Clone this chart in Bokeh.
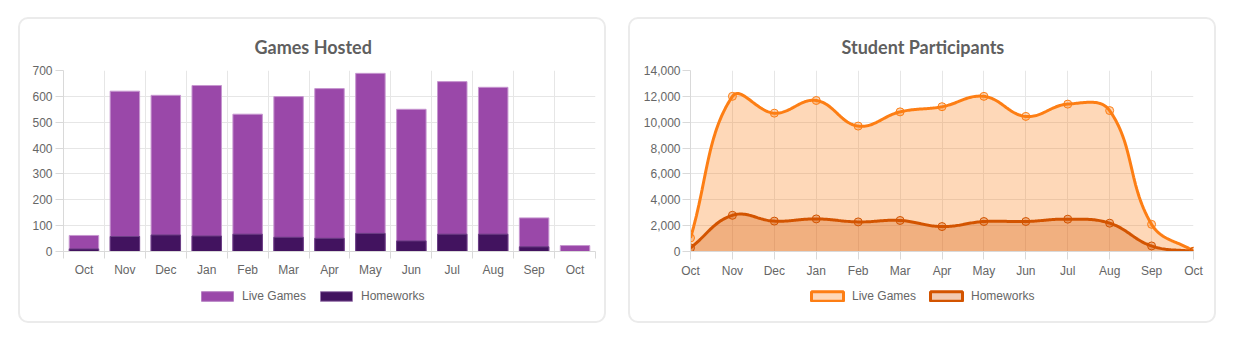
import math
from bokeh.plotting import figure
from bokeh.layouts import row, column
from bokeh.models import (Range1d, FixedTicker, NumeralTickFormatter, Legend,
                          LegendItem)
from bokeh.embed import file_html
from bokeh.resources import INLINE

# ---------------- data ----------------
months = ["Oct", "Nov", "Dec", "Jan", "Feb", "Mar", "Apr", "May", "Jun",
          "Jul", "Aug", "Sep", "Oct"]
games_live = [62, 620, 604, 642, 531, 599, 630, 689, 550, 657, 635, 130, 23]
games_homework = [10, 58, 64, 60, 67, 55, 51, 70, 41, 67, 67, 18, 0]
students_live = [1050, 12000, 10700, 11680, 9700, 10800, 11200, 12000,
                 10450, 11400, 10900, 2100, 30]
students_homework = [280, 2800, 2350, 2520, 2290, 2400, 1930, 2320, 2320,
                     2500, 2190, 430, 0]
games_ticks = [0, 100, 200, 300, 400, 500, 600, 700]
student_ticks = [0, 2000, 4000, 6000, 8000, 10000, 12000, 14000]
series_names = ["Live Games", "Homeworks"]

# ---------------- style ----------------
LABEL_FONT = "Liberation Sans"
TITLE_FONT = "Lato"
TXT = "#666666"
GRID = "#e6e6e6"
AXIS = "#d9d9d9"
PURPLE = "#9a48a9"
DARK_PURPLE = "#42135f"
ORANGE = "#fd7e14"
DARK_ORANGE = "#d35400"
CARD = {"border": "2px solid #ebebeb", "border-radius": "10px",
        "box-sizing": "content-box"}
W = 584          # card inner width
MAIN_H = 262     # chart figure height
LEG_H = 40       # legend strip height

xs = list(range(len(months)))


def style_common(p):
    p.outline_line_color = None
    p.border_fill_color = None
    p.background_fill_color = "white"
    p.title.text_font = TITLE_FONT
    p.title.text_font_size = "18px"
    p.title.text_font_style = "bold"
    p.title.text_color = "#5f5f5f"
    p.title.align = "left"
    p.title.standoff = 26
    for ax in (p.xaxis[0], p.yaxis[0]):
        ax.axis_line_color = AXIS
        ax.major_label_text_font = LABEL_FONT
        ax.major_label_text_font_size = "12px"
        ax.major_label_text_color = TXT
        ax.major_tick_line_color = AXIS
        ax.major_tick_in = 0
        ax.minor_tick_line_color = None
    p.yaxis.major_tick_out = 8
    p.yaxis.major_label_standoff = 3
    p.xgrid.grid_line_color = GRID
    p.ygrid.grid_line_color = GRID


def legend_strip(series, specs, vx):
    """A small figure holding only the legend, placed under the chart."""
    lf = figure(width=W, height=LEG_H, x_range=Range1d(0, 1),
                y_range=Range1d(0, 1), output_backend="svg",
                toolbar_location=None, min_border=0,
                x_axis_type=None, y_axis_type=None)
    lf.outline_line_color = None
    lf.border_fill_color = None
    lf.background_fill_color = None
    lf.xgrid.visible = False
    lf.ygrid.visible = False
    items = []
    for name, vals, kw in zip(series_names, series, specs):
        r = lf.vbar(x=xs, top=vals, width=0.5, **kw)
        r.visible = False
        items.append(LegendItem(label=name, renderers=[r]))
    lg = Legend(items=items, orientation="horizontal", location=(vx, 18),
                glyph_width=40, glyph_height=12, label_standoff=5, spacing=10,
                padding=0, margin=0, border_line_color=None,
                background_fill_alpha=0, inactive_fill_alpha=0,
                label_text_font=LABEL_FONT,
                label_text_font_size="12px", label_text_color=TXT)
    lf.add_layout(lg)
    return lf


# ---------------- left: Games Hosted ----------------
p1 = figure(width=W, height=MAIN_H, x_range=Range1d(-0.5, 12.5),
            y_range=Range1d(0, 700), output_backend="svg",
            toolbar_location=None, title="Games Hosted",
            min_border_left=43, min_border_right=9, min_border_top=51,
            min_border_bottom=30)
style_common(p1)
p1.title.offset = 191
p1.yaxis.ticker = FixedTicker(ticks=games_ticks)
bounds = [i - 0.5 for i in range(len(months) + 1)]
p1.xaxis.ticker = FixedTicker(ticks=xs, minor_ticks=bounds)
p1.xaxis.major_label_overrides = {i: m for i, m in enumerate(months)}
p1.xaxis.major_tick_out = 0
p1.xaxis.major_tick_line_color = None
p1.xaxis.minor_tick_line_color = AXIS
p1.xaxis.minor_tick_out = 7
p1.xaxis.minor_tick_in = 0
p1.xaxis.major_label_standoff = 4
p1.xgrid.ticker = FixedTicker(ticks=bounds)

p1.vbar(x=xs, top=games_live, width=0.72, fill_color=PURPLE,
        line_color="#c797d0", line_width=1)
p1.vbar(x=xs, top=games_homework, width=0.72, fill_color=DARK_PURPLE,
        line_color="#6b3f85", line_width=1)
l1 = legend_strip([games_live, games_homework],
                  [dict(fill_color=PURPLE, line_color="#b57fc2", line_width=1),
                   dict(fill_color=DARK_PURPLE, line_color="#9a78ad",
                        line_width=1)], 134)
card1 = column(p1, l1, spacing=0)
card1.styles = CARD
card1.margin = (17, 0, 0, 18)


# ---------------- right: Student Participants ----------------
def spline(xv, yv, sx, sy, xmax, ymax, t=0.4, n=30):
    """Chart.js-style cardinal spline (tension 0.4) through the data points."""
    P = [(x * sx, y * sy) for x, y in zip(xv, yv)]
    N = len(P)
    cps = []
    for i in range(N):
        prv = P[i - 1] if i > 0 else P[i]
        cur = P[i]
        nxt = P[i + 1] if i < N - 1 else P[i]
        d01 = math.hypot(cur[0] - prv[0], cur[1] - prv[1])
        d12 = math.hypot(nxt[0] - cur[0], nxt[1] - cur[1])
        s = d01 + d12
        s01 = d01 / s if s else 0
        s12 = d12 / s if s else 0
        fa, fb = t * s01, t * s12
        dx, dy = nxt[0] - prv[0], nxt[1] - prv[1]
        cp_prev = (cur[0] - fa * dx, cur[1] - fa * dy)
        cp_next = (cur[0] + fb * dx, cur[1] + fb * dy)
        cap = lambda c: (min(max(c[0], 0), xmax * sx), min(max(c[1], 0), ymax * sy))
        cps.append((cap(cp_prev), cap(cp_next)))
    ox, oy = [], []
    for i in range(N - 1):
        p0, c1, c2, p3 = P[i], cps[i][1], cps[i + 1][0], P[i + 1]
        for k in range(n):
            u = k / n
            a, b, c, d = (1 - u) ** 3, 3 * u * (1 - u) ** 2, 3 * u * u * (1 - u), u ** 3
            ox.append((a * p0[0] + b * c1[0] + c * c2[0] + d * p3[0]) / sx)
            oy.append((a * p0[1] + b * c1[1] + c * c2[1] + d * p3[1]) / sy)
    ox.append(P[-1][0] / sx)
    oy.append(P[-1][1] / sy)
    return ox, oy


p2 = figure(width=W, height=MAIN_H, x_range=Range1d(0, 12),
            y_range=Range1d(0, 14000), output_backend="svg",
            toolbar_location=None, title="Student Participants",
            min_border_left=60, min_border_right=21, min_border_top=51,
            min_border_bottom=30)
style_common(p2)
p2.title.offset = 151
p2.yaxis.ticker = FixedTicker(ticks=student_ticks)
p2.yaxis.formatter = NumeralTickFormatter(format="0,0")
p2.yaxis.major_label_standoff = 2
p2.xaxis.ticker = FixedTicker(ticks=xs)
p2.xaxis.major_label_overrides = {i: m for i, m in enumerate(months)}
p2.xaxis.major_tick_out = 8
p2.xaxis.major_label_standoff = 4

SX = 503 / 12.0
SY = 181 / 14000.0
lx, ly = spline(xs, students_live, SX, SY, 12, 14000)
hx, hy = spline(xs, students_homework, SX, SY, 12, 14000)

p2.varea(x=lx, y1=0, y2=ly, fill_color=ORANGE, fill_alpha=0.3)
p2.varea(x=hx, y1=0, y2=hy, fill_color=DARK_ORANGE, fill_alpha=0.3)
p2.line(lx, ly, line_color=ORANGE, line_width=3)
p2.line(hx, hy, line_color=DARK_ORANGE, line_width=3)
p2.scatter(xs, students_live, size=8, marker="circle", fill_color=ORANGE,
           fill_alpha=0.3, line_color=ORANGE, line_width=1)
p2.scatter(xs, students_homework, size=8, marker="circle",
           fill_color=DARK_ORANGE, fill_alpha=0.3, line_color=DARK_ORANGE,
           line_width=1)

l2 = legend_strip([students_live, students_homework],
                  [dict(fill_color=ORANGE, fill_alpha=0.3, line_color=ORANGE,
                        line_width=3),
                   dict(fill_color=DARK_ORANGE, fill_alpha=0.3,
                        line_color=DARK_ORANGE, line_width=3)], 117)
card2 = column(p2, l2, spacing=0)
card2.styles = CARD
card2.margin = (17, 0, 0, 22)

layout = row(card1, card2)
open("out.html", "w").write(file_html(layout, INLINE))
